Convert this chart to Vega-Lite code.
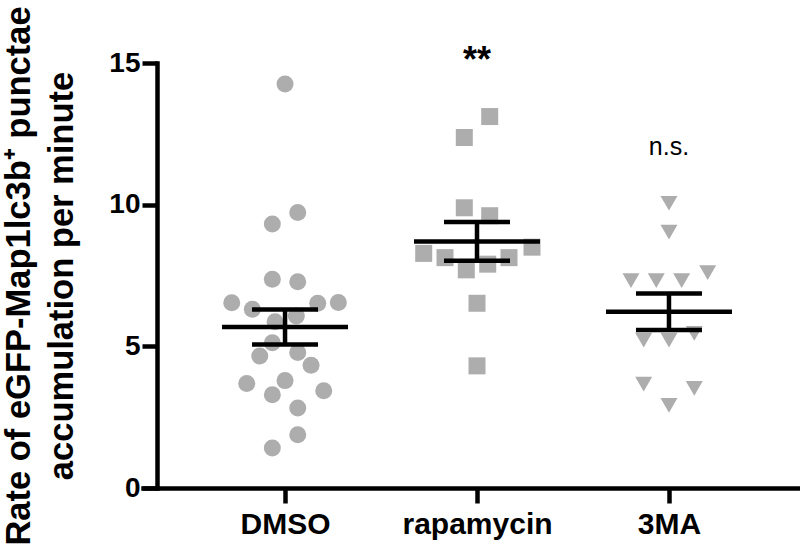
{
  "$schema": "https://vega.github.io/schema/vega-lite/v6.json",
  "width": 655,
  "height": 425,
  "autosize": {"type": "none"},
  "padding": {"left": 143, "top": 63, "right": 2, "bottom": 61},
  "background": "white",
  "config": {"view": {"stroke": null}, "font": "Liberation Sans"},
  "datasets": {
    "points": [
      {"group": "DMSO", "value": 14.26, "jitter": 0},
      {"group": "DMSO", "value": 9.72, "jitter": 12.7},
      {"group": "DMSO", "value": 9.32, "jitter": -12.7},
      {"group": "DMSO", "value": 7.37, "jitter": -12.7},
      {"group": "DMSO", "value": 7.28, "jitter": 12.7},
      {"group": "DMSO", "value": 6.54, "jitter": -53.3},
      {"group": "DMSO", "value": 6.31, "jitter": -32.7},
      {"group": "DMSO", "value": 6.52, "jitter": 32.7},
      {"group": "DMSO", "value": 6.55, "jitter": 53.3},
      {"group": "DMSO", "value": 5.87, "jitter": -10},
      {"group": "DMSO", "value": 6.07, "jitter": 11.3},
      {"group": "DMSO", "value": 5.13, "jitter": -12.7},
      {"group": "DMSO", "value": 4.66, "jitter": -25.3},
      {"group": "DMSO", "value": 4.78, "jitter": 12.7},
      {"group": "DMSO", "value": 4.33, "jitter": 26},
      {"group": "DMSO", "value": 3.69, "jitter": -38.3},
      {"group": "DMSO", "value": 3.79, "jitter": 0},
      {"group": "DMSO", "value": 3.29, "jitter": -12.7},
      {"group": "DMSO", "value": 3.43, "jitter": 38.7},
      {"group": "DMSO", "value": 2.82, "jitter": 12.7},
      {"group": "DMSO", "value": 1.88, "jitter": 12.7},
      {"group": "DMSO", "value": 1.41, "jitter": -12.7},
      {"group": "rapamycin", "value": 13.11, "jitter": 12.7},
      {"group": "rapamycin", "value": 12.37, "jitter": -12.7},
      {"group": "rapamycin", "value": 9.89, "jitter": -12.7},
      {"group": "rapamycin", "value": 9.61, "jitter": 12.7},
      {"group": "rapamycin", "value": 8.28, "jitter": -53.3},
      {"group": "rapamycin", "value": 8.13, "jitter": -32},
      {"group": "rapamycin", "value": 7.7, "jitter": -10.7},
      {"group": "rapamycin", "value": 7.9, "jitter": 10.7},
      {"group": "rapamycin", "value": 8.13, "jitter": 32},
      {"group": "rapamycin", "value": 8.5, "jitter": 55},
      {"group": "rapamycin", "value": 6.52, "jitter": 0},
      {"group": "rapamycin", "value": 4.31, "jitter": 0},
      {"group": "3MA", "value": 10.05, "jitter": 0},
      {"group": "3MA", "value": 9.03, "jitter": 0},
      {"group": "3MA", "value": 7.32, "jitter": -38},
      {"group": "3MA", "value": 7.32, "jitter": -12.7},
      {"group": "3MA", "value": 7.32, "jitter": 12.7},
      {"group": "3MA", "value": 7.6, "jitter": 38.7},
      {"group": "3MA", "value": 5.46, "jitter": 25.3},
      {"group": "3MA", "value": 5.22, "jitter": -25.3},
      {"group": "3MA", "value": 5.22, "jitter": 0},
      {"group": "3MA", "value": 3.67, "jitter": -25.3},
      {"group": "3MA", "value": 3.52, "jitter": 25.3},
      {"group": "3MA", "value": 2.92, "jitter": 0}
    ],
    "annotations": [
      {"group": "rapamycin", "label": "**", "y": 14.68},
      {"group": "3MA", "label": "n.s.", "y": 11.75}
    ]
  },
  "encoding": {
    "x": {
      "field": "group",
      "type": "nominal",
      "scale": {"type": "point", "domain": ["DMSO", "rapamycin", "3MA"], "padding": 0.706, "align": 0.524},
      "axis": {
        "title": null,
        "labelAngle": 0,
        "labelFont": "Liberation Sans",
        "labelFontSize": 30,
        "labelFontWeight": "bold",
        "labelColor": "black",
        "labelPadding": 6,
        "tickSize": 15,
        "tickWidth": 4.5,
        "tickColor": "black",
        "domainWidth": 4.5,
        "domainColor": "black",
        "domainCap": "square",
        "grid": false
      }
    }
  },
  "layer": [
    {
      "data": {"name": "points"},
      "mark": {"type": "point", "filled": true, "opacity": 1, "size": 289, "color": "#adadad"},
      "encoding": {
        "y": {
          "field": "value",
          "type": "quantitative",
          "title": ["Rate of eGFP-Map1lc3b⁺ punctae", "accumulation per minute"],
          "scale": {"domain": [0, 15], "nice": false, "zero": true},
          "axis": {
            "values": [0, 5, 10, 15],
            "offset": -14,
            "titleFont": "Liberation Sans",
            "titleFontSize": 34.5,
            "titleFontWeight": "bold",
            "titleColor": "black",
            "titleLineHeight": 43,
            "titlePadding": 29,
            "labelFont": "Liberation Sans",
            "labelFontSize": 28,
            "labelFontWeight": "bold",
            "labelColor": "black",
            "labelPadding": 2,
            "tickSize": 15,
            "tickWidth": 4.5,
            "tickColor": "black",
            "domainWidth": 4.5,
            "domainColor": "black",
            "domainCap": "square",
            "grid": false
          }
        },
        "xOffset": {"field": "jitter", "type": "quantitative", "scale": {"domain": [-60, 60], "range": [-60, 60]}},
        "shape": {
          "field": "group",
          "type": "nominal",
          "scale": {"domain": ["DMSO", "rapamycin", "3MA"], "range": ["circle", "square", "triangle-down"]},
          "legend": null
        }
      }
    },
    {
      "data": {"name": "points"},
      "mark": {"type": "tick", "size": 126, "thickness": 4.5, "color": "black", "opacity": 1},
      "encoding": {
        "y": {"aggregate": "mean", "field": "value", "type": "quantitative", "title": ["Rate of eGFP-Map1lc3b⁺ punctae", "accumulation per minute"]}
      }
    },
    {
      "data": {"name": "points"},
      "mark": {
        "type": "errorbar",
        "extent": "stderr",
        "color": "black",
        "ticks": {"size": 66, "thickness": 4.5, "color": "black", "opacity": 1},
        "rule": {"strokeWidth": 4.5, "color": "black"}
      },
      "encoding": {
        "y": {"field": "value", "type": "quantitative", "title": ["Rate of eGFP-Map1lc3b⁺ punctae", "accumulation per minute"]}
      }
    },
    {
      "data": {"name": "annotations"},
      "transform": [{"filter": "datum.label === '**'"}],
      "mark": {"type": "text", "font": "Liberation Sans", "fontSize": 36, "fontWeight": "bold", "color": "black", "align": "center", "baseline": "alphabetic"},
      "encoding": {
        "y": {"field": "y", "type": "quantitative", "title": ["Rate of eGFP-Map1lc3b⁺ punctae", "accumulation per minute"]},
        "text": {"field": "label"}
      }
    },
    {
      "data": {"name": "annotations"},
      "transform": [{"filter": "datum.label === 'n.s.'"}],
      "mark": {"type": "text", "font": "Liberation Sans", "fontSize": 25, "fontWeight": "normal", "color": "black", "align": "center", "baseline": "alphabetic"},
      "encoding": {
        "y": {"field": "y", "type": "quantitative", "title": ["Rate of eGFP-Map1lc3b⁺ punctae", "accumulation per minute"]},
        "text": {"field": "label"}
      }
    }
  ]
}
